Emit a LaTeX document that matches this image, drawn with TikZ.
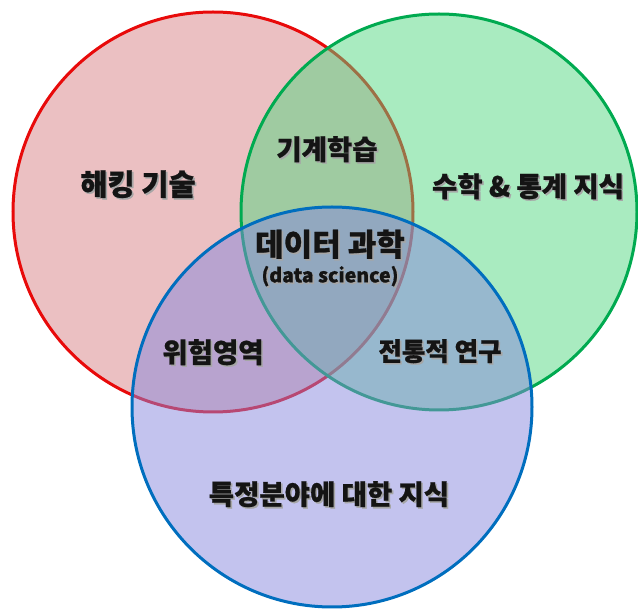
\documentclass[tikz,border=0pt]{standalone}
\usepackage{fontspec}
\setmainfont{Noto Sans CJK KR}[BoldFeatures={FakeBold=0.8}]
\definecolor{redline}{RGB}{232,10,10}
\definecolor{redfill}{RGB}{215,129,133}
\definecolor{greenline}{RGB}{0,170,80}
\definecolor{greenfill}{RGB}{83,215,129}
\definecolor{blueline}{RGB}{0,110,190}
\definecolor{bluefill}{RGB}{135,135,221}
\definecolor{txt}{RGB}{20,20,20}
\newcommand{\shtext}[1]{\rlap{\kern1.6pt\raisebox{-1.6pt}{\textcolor{black!35}{#1}}}#1}
\tikzset{
  setcircle/.style={circle, line width=3pt, fill opacity=0.5, draw opacity=1, inner sep=0pt, minimum size=400pt},
  lbl/.style={font=\fontsize{27.5}{30}\selectfont\bfseries, text=txt, inner sep=0pt},
  biglbl/.style={font=\fontsize{31}{34}\selectfont\bfseries, text=txt, inner sep=0pt},
  smalllbl/.style={font=\fontsize{19.5}{22}\selectfont\bfseries, text=txt, inner sep=0pt},
}
\begin{document}
\begin{tikzpicture}[x=1pt,y=-1pt]
\useasboundingbox (0,0) rectangle (638,609);
\node[setcircle, draw=redline, fill=redfill] (hackc) at (213,212) {};
\node[setcircle, draw=greenline, fill=greenfill, minimum size=396pt] (mathc) at (439,212) {};
\node[setcircle, draw=blueline, fill=bluefill] (domc) at (332,407) {};

\node[lbl, font=\fontsize{29.5}{32}\selectfont\bfseries] (hack) at (138,185) {\shtext{해킹 기술}};
\node[lbl] (ml) at (327,150) {\shtext{기계학습}};
\node[lbl] (math) at (528,187) {\shtext{수학 \& 통계 지식}};
\node[biglbl] (ds) at (330,245) {\shtext{데이터 과학}};
\node[smalllbl] (dsen) at (330,277) {\shtext{(data science)}};
\node[lbl] (danger) at (213,353) {\shtext{위험영역}};
\node[lbl, font=\fontsize{25.5}{28}\selectfont\bfseries] (trad) at (440,352) {\shtext{전통적 연구}};
\node[lbl] (dom) at (329,495) {\shtext{특정분야에 대한 지식}};
\end{tikzpicture}
\end{document}
